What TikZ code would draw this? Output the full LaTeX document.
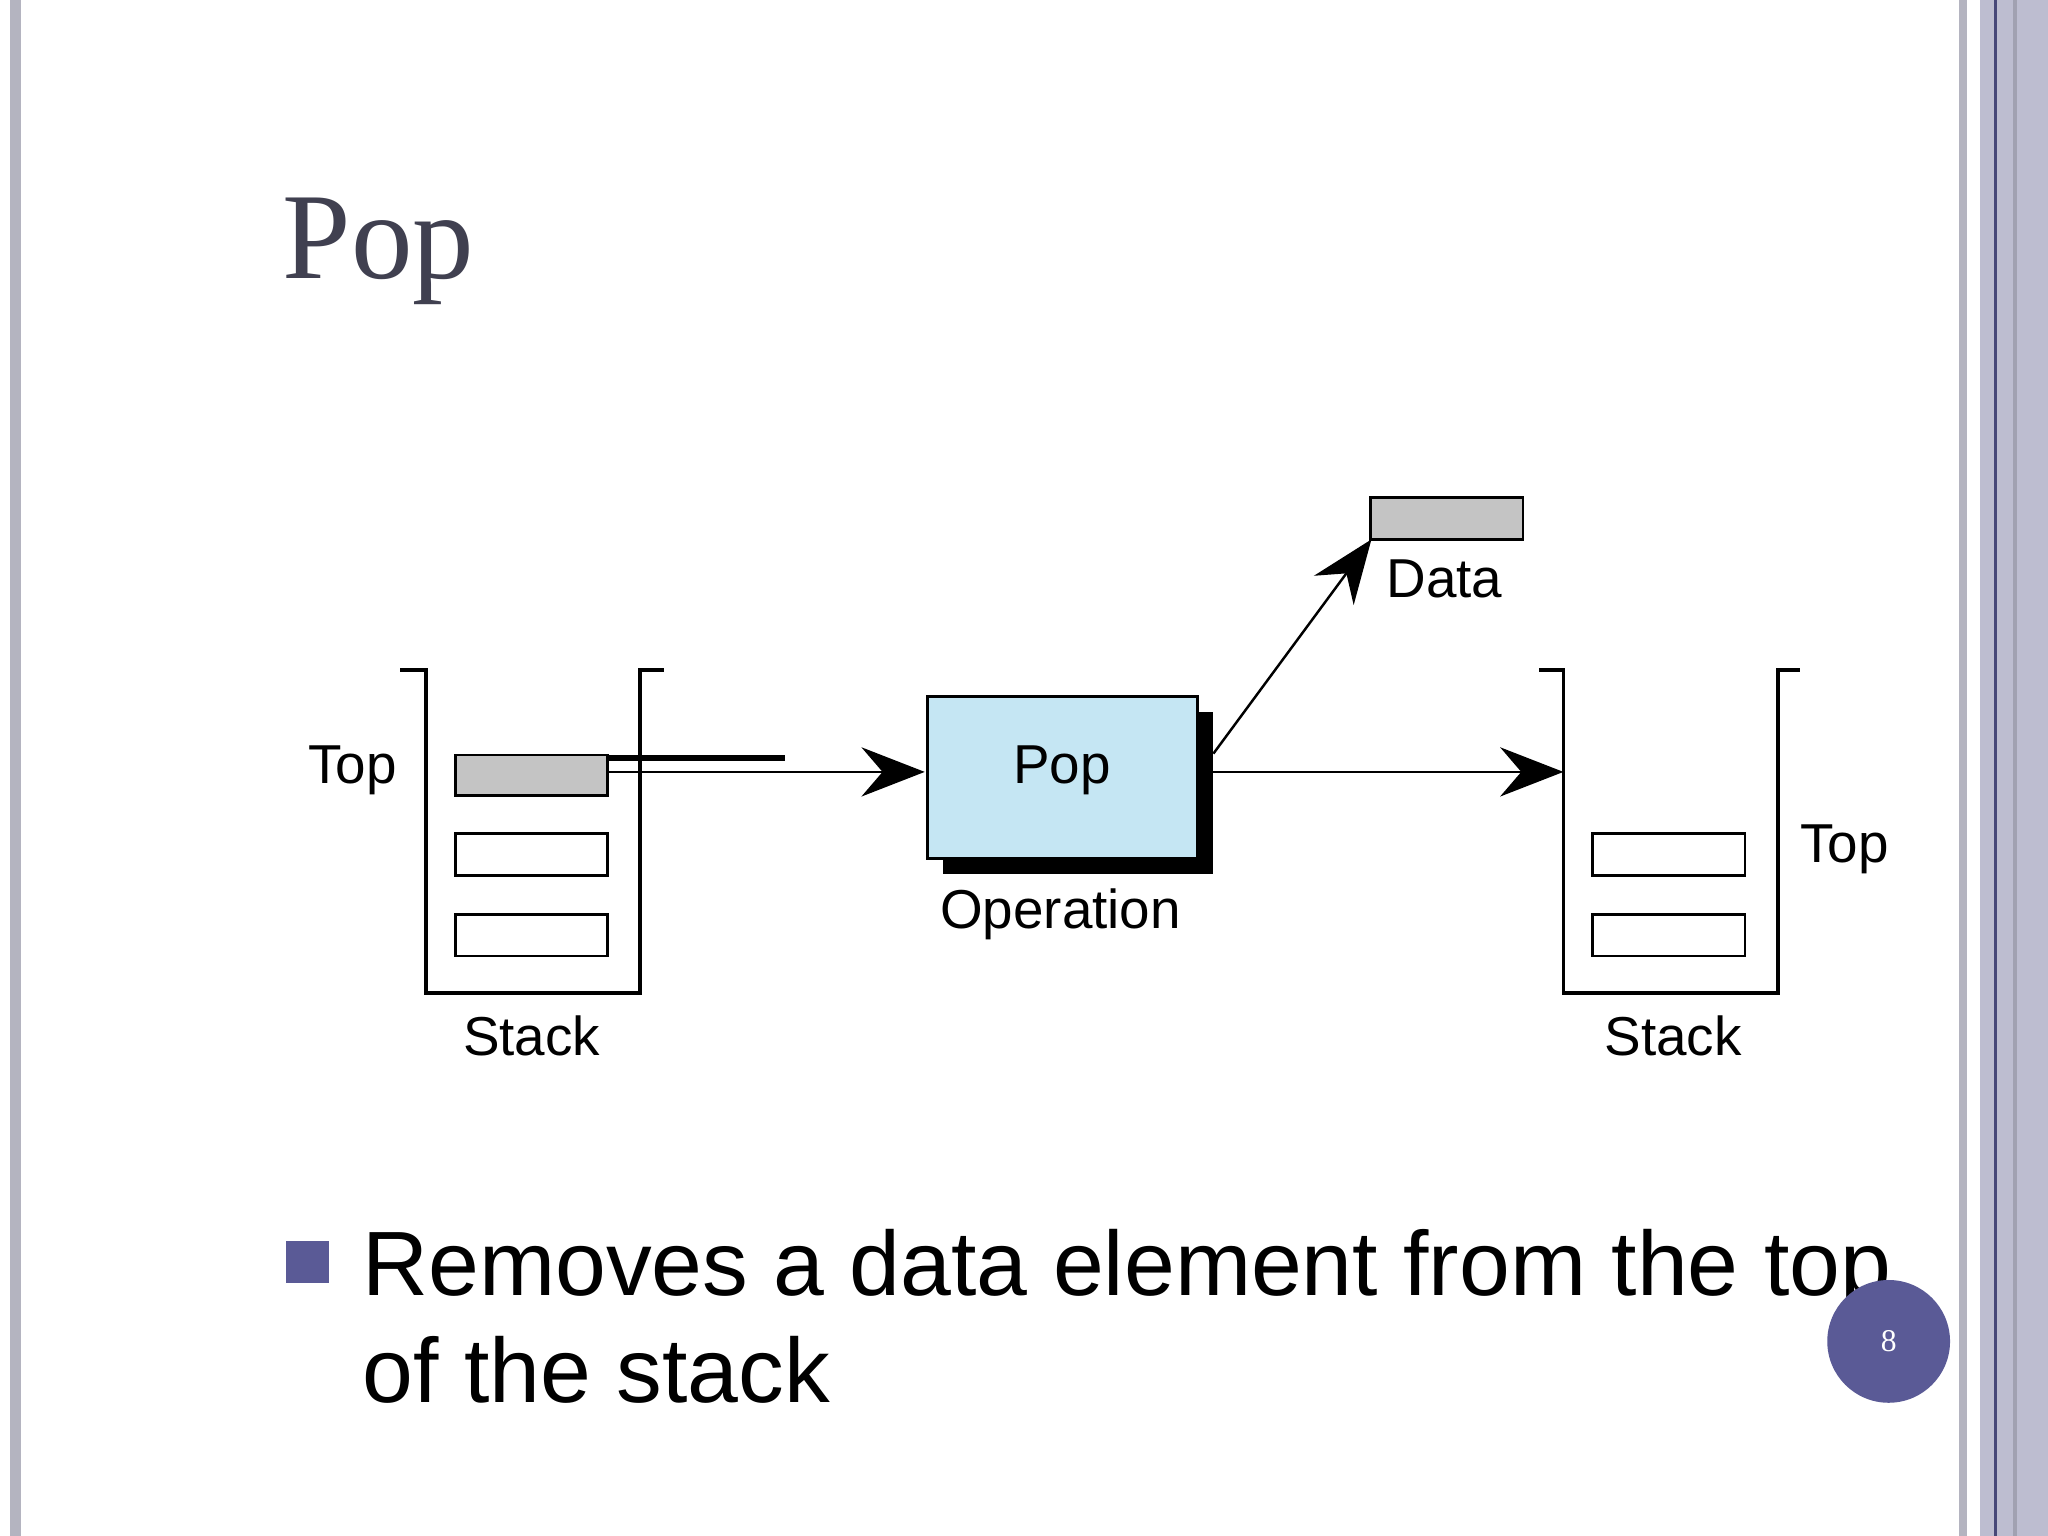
\documentclass[tikz,border=0pt]{standalone}
\usepackage{fontspec}
\setmainfont{Liberation Sans}
\newfontfamily\serifm{Liberation Serif}
\usetikzlibrary{arrows.meta}
\definecolor{lav}{HTML}{BDBDD0}
\definecolor{grayb}{HTML}{B4B4C0}
\definecolor{bul}{HTML}{5A5A96}
\definecolor{pblue}{HTML}{C5E6F3}
\definecolor{cellg}{HTML}{C4C4C4}
\definecolor{titlec}{HTML}{404050}
\begin{document}
\begin{tikzpicture}[x=0.01306cm,y=-0.01306cm,
  wall/.style={line width=1.1pt,line cap=rect},
  cell/.style={draw,line width=0.8pt},
  lab/.style={font=\fontsize{15.6}{18}\selectfont,inner sep=0},
  arr/.style={line width=0.7pt,-{Stealth[length=18pt,width=14pt,inset=6pt]}}]
\useasboundingbox (0,0) rectangle (1568,1176);
\fill[white] (0,0) rectangle (1568,1176);
\fill[grayb] (8,0) rectangle (16,1176);
\fill[grayb] (1500,0) rectangle (1506,1176);
\fill[lav] (1516,0) rectangle (1568,1176);
\fill[bul!80!black] (1527,0) rectangle (1529,1176);
\fill[lav!85!black] (1541,0) rectangle (1544,1176);
% title
\node[anchor=base west,inner sep=0,text=titlec,font=\serifm\fontsize{35}{40}\selectfont] (title) at (216,213) {Pop};
% left stack
\draw[wall] (308,513) -- (326,513) -- (326,760) -- (490,760) -- (490,513) -- (507,513);
\node[cell,fill=cellg,minimum width=116\pgflinewidth,anchor=north west,inner sep=0] (l1) at (349,578) {};
\path[cell,fill=cellg] (349,578) rectangle (465,609);
\path[cell] (349,638) rectangle (465,670);
\path[cell] (349,700) rectangle (465,732);
\coordinate (ltop) at (465,591);
\node[lab] (t1) at (270,590) {Top};
\node[lab] (s1) at (407,793) {Stack};
% pop box
\fill[black] (722,545) rectangle (929,669);
\node[draw,line width=0.8pt,fill=pblue,anchor=north west,minimum width=207*0.01306cm,minimum height=124*0.01306cm,inner sep=0] (pop) at (709,532) {};
\node[lab] (popt) at (813,590) {Pop};
\node[lab] (op) at (812,700) {Operation};
\coordinate (pin) at (708,591);
\coordinate (pout) at (929,591);
\coordinate (pout2) at (929,577);
% data
\node[draw,line width=0.8pt,fill=cellg,anchor=north west,minimum width=117*0.01306cm,minimum height=32*0.01306cm,inner sep=0] (data) at (1048,380) {};
\node[lab] (dt) at (1106,443) {Data};
\coordinate (din) at (1050,413);
% right stack
\draw[wall] (1180,513) -- (1197,513) -- (1197,760) -- (1361,760) -- (1361,513) -- (1377,513);
\path[cell] (1219,638) rectangle (1336,670);
\path[cell] (1219,700) rectangle (1336,732);
\coordinate (rin) at (1197,591);
\node[lab] (t2) at (1412,650) {Top};
\node[lab] (s2) at (1281,793) {Stack};
% arrows
\draw[arr] (ltop) -- (pin);
\draw[arr] (pout) -- (rin);
\draw[arr] (pout2) -- (din);
% bullet
\fill[bul] (219,950) rectangle (252,982);
\node[anchor=base west,inner sep=0,font=\fontsize{26}{31}\selectfont] (b1) at (277,992) {Removes a data element from the top};
\node[anchor=base west,inner sep=0,font=\fontsize{26}{31}\selectfont] (b2) at (277,1074) {of the stack};
% page number
\node[circle,fill=bul,minimum size=94*0.01306cm,inner sep=0,text=white,font=\serifm\fontsize{9}{10}\selectfont] (pg) at (1446,1027) {8};
\end{tikzpicture}
\end{document}
